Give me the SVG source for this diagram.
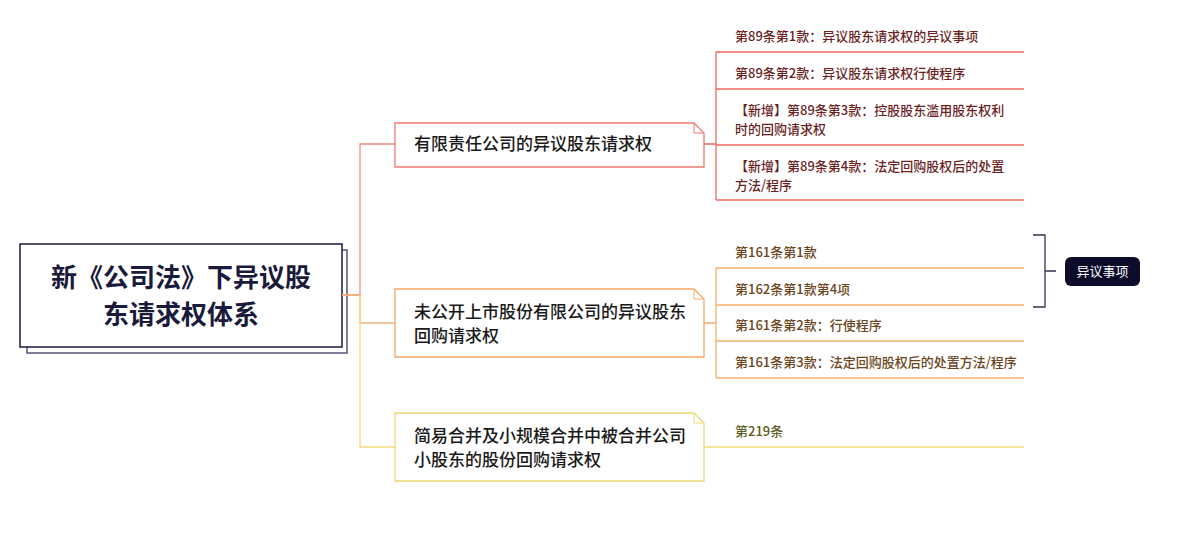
<svg xmlns="http://www.w3.org/2000/svg" width="1187" height="534" viewBox="0 0 1187 534">
<style>
text{font-family:"Noto Sans CJK SC","Noto Sans",sans-serif}
.t1{font-size:17px;font-weight:500;fill:#1a1a1a}
.lf{font-size:13px;font-weight:500}
.r{fill:#6b1f1f}.o{fill:#6b4520}.y{fill:#5e5a22}
.ln{fill:none;stroke-width:1.3}
</style>
<rect width="1187" height="534" fill="#fff"/>
<g id="root">
<rect x="27" y="250" width="320" height="103" fill="#fff" stroke="#55557a" stroke-width="1.5"/>
<rect x="20" y="244" width="322" height="103" fill="#fff" stroke="#1a1a3a" stroke-width="1.5"/>
<text x="181" y="287" text-anchor="middle" font-size="26" font-weight="700" fill="#1a1a3a">新《公司法》下异议股</text>
<text x="181" y="324" text-anchor="middle" font-size="26" font-weight="700" fill="#1a1a3a">东请求权体系</text>
</g>
<g id="connectors">
<path class="ln" stroke="#f28a80" d="M342 295H360V144H395"/>
<path class="ln" stroke="#f7b27a" d="M342 295H360V323H395"/>
<path class="ln" stroke="#f3dc7a" d="M360 295V447H395"/>
<path class="ln" stroke="#ee6a60" d="M704 144H716M716 52V200M716 52H1024M716 89H1024M716 145H1024M716 200H1024"/>
<path class="ln" stroke="#f5b070" d="M704 323H716M716 268V378M716 268H1024M716 305H1024M716 341H1024M716 378H1024"/>
<path class="ln" stroke="#f3dc7a" d="M704 447H1024"/>
<path class="ln" stroke="#33334d" stroke-width="1.5" d="M1033 235H1045V307H1033M1045 271H1056"/>
</g>
<g id="n1">
<path d="M395 123H694L704 133V167H395Z" fill="#fff" stroke="#f07a72" stroke-width="1.3"/>
<path d="M694 123V133H704" fill="none" stroke="#f07a72"/>
<text class="t1" x="414" y="150">有限责任公司的异议股东请求权</text>
</g>
<g id="n2">
<path d="M395 289H694L704 299V357H395Z" fill="#fff" stroke="#f5a86a" stroke-width="1.3"/>
<path d="M694 289V299H704" fill="none" stroke="#f5a86a"/>
<text class="t1" x="414" y="318">未公开上市股份有限公司的异议股东</text>
<text class="t1" x="414" y="342">回购请求权</text>
</g>
<g id="n3">
<path d="M395 413H694L704 423V481H395Z" fill="#fff" stroke="#f0d870" stroke-width="1.3"/>
<path d="M694 413V423H704" fill="none" stroke="#f0d870"/>
<text class="t1" x="414" y="442">简易合并及小规模合并中被合并公司</text>
<text class="t1" x="414" y="466">小股东的股份回购请求权</text>
</g>
<g id="leaves-red">
<text class="lf r" x="735" y="41">第89条第1款：异议股东请求权的异议事项</text>
<text class="lf r" x="735" y="78">第89条第2款：异议股东请求权行使程序</text>
<text class="lf r" x="735" y="115">【新增】第89条第3款：控股股东滥用股东权利</text>
<text class="lf r" x="735" y="134">时的回购请求权</text>
<text class="lf r" x="735" y="171">【新增】第89条第4款：法定回购股权后的处置</text>
<text class="lf r" x="735" y="190">方法/程序</text>
</g>
<g id="leaves-orange">
<text class="lf o" x="735" y="257">第161条第1款</text>
<text class="lf o" x="735" y="294">第162条第1款第4项</text>
<text class="lf o" x="735" y="330">第161条第2款：行使程序</text>
<text class="lf o" x="735" y="367">第161条第3款：法定回购股权后的处置方法/程序</text>
</g>
<g id="leaf-yellow">
<text class="lf y" x="735" y="436">第219条</text>
</g>
<g id="summary">
<rect x="1065" y="257" width="75" height="29" rx="6" fill="#0d0d2b"/>
<text x="1102.5" y="276" text-anchor="middle" font-size="13" fill="#fff">异议事项</text>
</g>
</svg>
